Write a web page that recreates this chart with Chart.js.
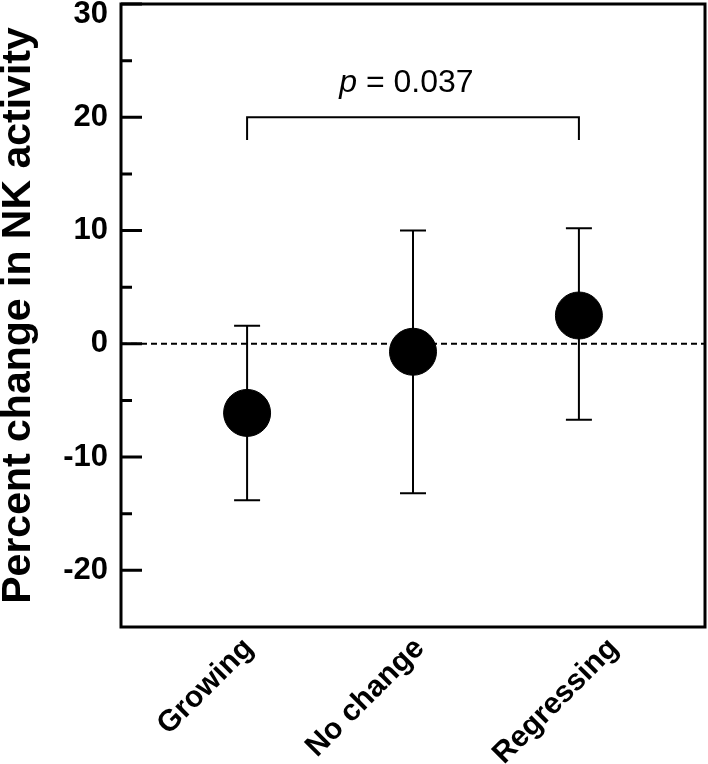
<!DOCTYPE html>
<html>
<head>
<meta charset="utf-8">
<script src="https://cdn.jsdelivr.net/npm/chart.js@4"></script>
<style>
  html,body{margin:0;padding:0;background:#fff;}
  #wrap{width:708px;height:764px;}
</style>
</head>
<body>
<div id="wrap"><canvas id="c" width="708" height="764"></canvas></div>
<script>
// -- dati
const categories = ["Growing", "No change", "Regressing"];
const catPos = [1, 2, 3];
const means = [-6.1, -0.7, 2.5];
const upper = [1.6, 10.0, 10.2];
const lower = [-13.8, -13.2, -6.7];
const yTicks = [-20, -10, 0, 10, 20, 30];
const yMinor = [-15, -5, 5, 15, 25];
const bracketFrom = 1, bracketTo = 3, bracketY = 20, bracketDrop = 18;
const pLabel = "0.037";

const FONT = "'Liberation Sans', Arial, sans-serif";
// spostamento etichette x come nell'originale (unita' asse)
const labelNudge = [0.01, 0.04, 0.21];

// -- plugin: box, tick interni, linea tratteggiata, barre di errore, parentesi p
const extras = {
  id: "extras",
  beforeDatasetsDraw(chart) {
    const {ctx, chartArea: a, scales: {x, y}} = chart;
    ctx.save();
    ctx.strokeStyle = "#000";
    // linea zero tratteggiata
    ctx.lineWidth = 2;
    ctx.setLineDash([6, 4]);
    ctx.beginPath();
    ctx.moveTo(a.left, y.getPixelForValue(0));
    ctx.lineTo(a.right, y.getPixelForValue(0));
    ctx.stroke();
    ctx.setLineDash([]);
    // barre di errore
    ctx.lineWidth = 2;
    catPos.forEach((c, i) => {
      const px = x.getPixelForValue(c);
      const yu = y.getPixelForValue(upper[i]), yl = y.getPixelForValue(lower[i]);
      ctx.beginPath();
      ctx.moveTo(px, yu); ctx.lineTo(px, yl);
      ctx.moveTo(px - 13, yu); ctx.lineTo(px + 13, yu);
      ctx.moveTo(px - 13, yl); ctx.lineTo(px + 13, yl);
      ctx.stroke();
    });
    // parentesi significativita'
    const bx1 = x.getPixelForValue(bracketFrom), bx2 = x.getPixelForValue(bracketTo);
    const by = y.getPixelForValue(bracketY), byd = y.getPixelForValue(bracketDrop);
    ctx.beginPath();
    ctx.moveTo(bx1, byd); ctx.lineTo(bx1, by); ctx.lineTo(bx2, by); ctx.lineTo(bx2, byd);
    ctx.stroke();
    // testo p
    ctx.fillStyle = "#000";
    ctx.textBaseline = "alphabetic";
    const ital = "italic 32px " + FONT, norm = "32px " + FONT;
    ctx.font = ital; const w1 = ctx.measureText("p").width;
    ctx.font = norm; const rest = " = " + pLabel; const w2 = ctx.measureText(rest).width;
    const cx = x.getPixelForValue(1.96), ty = y.getPixelForValue(22.2);
    let sx = cx - (w1 + w2) / 2;
    ctx.font = ital; ctx.textAlign = "left"; ctx.fillText("p", sx, ty);
    ctx.font = norm; ctx.fillText(rest, sx + w1, ty);
    ctx.restore();
  },
  afterDraw(chart) {
    const {ctx, chartArea: a, scales: {y}} = chart;
    ctx.save();
    ctx.strokeStyle = "#000";
    ctx.lineWidth = 3;
    ctx.strokeRect(a.left, a.top, a.right - a.left, a.bottom - a.top);
    ctx.beginPath();
    yTicks.forEach(v => { const p = y.getPixelForValue(v); ctx.moveTo(a.left, p); ctx.lineTo(a.left + 21, p); });
    yMinor.forEach(v => { const p = y.getPixelForValue(v); ctx.moveTo(a.left, p); ctx.lineTo(a.left + 11, p); });
    ctx.stroke();
    ctx.restore();
  }
};

const yMax = yTicks[yTicks.length - 1];

new Chart(document.getElementById("c"), {
  type: "scatter",
  data: {
    datasets: [{
      data: catPos.map((c, i) => ({x: c, y: means[i]})),
      backgroundColor: "#000",
      borderColor: "#000",
      pointRadius: 23.5,
      pointHoverRadius: 23.5,
      showLine: false
    }]
  },
  options: {
    responsive: false,
    animation: false,
    layout: {autoPadding: false, padding: {top: 4, right: 3, left: 0, bottom: 0}},
    plugins: {legend: {display: false}, tooltip: {enabled: false}},
    scales: {
      x: {
        type: "linear",
        min: 0.24, max: 3.76,
        grid: {display: false, drawTicks: false},
        border: {display: false},
        afterBuildTicks: s => { s.ticks = catPos.map((v, i) => ({value: v + labelNudge[i]})); },
        afterFit: s => { s.height = 137; s.paddingLeft = 0; s.paddingRight = 0; },
        ticks: {
          minRotation: 45, maxRotation: 45, padding: 4, color: "#000",
          font: {family: FONT, size: 30, weight: "bold"},
          callback: (v, i) => categories[i]
        }
      },
      y: {
        min: -25, max: yMax,
        grid: {display: false, drawTicks: false},
        border: {display: false},
        afterBuildTicks: s => { s.ticks = yTicks.map(v => ({value: v})); },
        afterFit: s => { s.width = 121; s.paddingTop = 0; s.paddingBottom = 0; },
        ticks: {
          padding: 13, color: "#000",
          // l'etichetta in cima scende dentro il riquadro, come nell'originale
          callback: v => v === yMax ? ["", String(v)] : String(v),
          font: ctx => ({family: FONT, size: 31, weight: "bold",
                         lineHeight: ctx.tick && ctx.tick.value === yMax ? 0.7 : 1.2})
        },
        title: {
          display: true, text: "Percent change in NK activity", color: "#000",
          padding: 0,
          font: {family: FONT, size: 41, weight: "bold", lineHeight: 0.9}
        }
      }
    }
  },
  plugins: [extras]
});
</script>
</body>
</html>
